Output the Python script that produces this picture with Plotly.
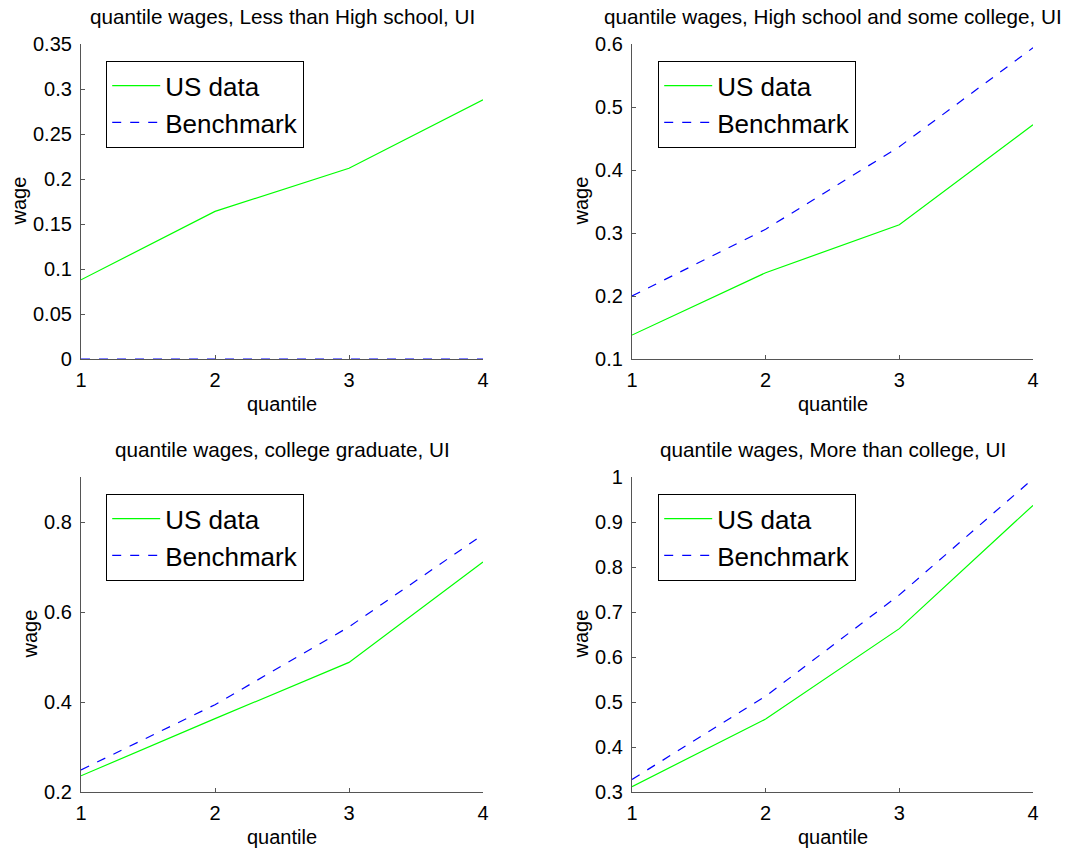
import plotly.graph_objects as go

quantiles = [1, 2, 3, 4]
titles = [
    "quantile wages, Less than High school, UI",
    "quantile wages, High school and some college, UI",
    "quantile wages, college graduate, UI",
    "quantile wages, More than college, UI",
]
us_lths = [0.088, 0.164, 0.212, 0.288]
bm_lths = [0.0, 0.0, 0.0, 0.0]
us_hs = [0.138, 0.237, 0.313, 0.472]
bm_hs = [0.200, 0.306, 0.437, 0.594]
us_col = [0.236, 0.363, 0.488, 0.711]
bm_col = [0.249, 0.394, 0.567, 0.772]
us_more = [0.312, 0.462, 0.663, 0.937]
bm_more = [0.328, 0.513, 0.738, 0.996]

yranges = [[0, 0.35], [0.1, 0.6], [0.2, 0.9], [0.3, 1.0]]
ytickvals = [
    [0, 0.05, 0.1, 0.15, 0.2, 0.25, 0.3, 0.35],
    [0.1, 0.2, 0.3, 0.4, 0.5, 0.6],
    [0.2, 0.4, 0.6, 0.8],
    [0.3, 0.4, 0.5, 0.6, 0.7, 0.8, 0.9, 1.0],
]
yticktext = [
    ["0", "0.05", "0.1", "0.15", "0.2", "0.25", "0.3", "0.35"],
    ["0.1", "0.2", "0.3", "0.4", "0.5", "0.6"],
    ["0.2", "0.4", "0.6", "0.8"],
    ["0.3", "0.4", "0.5", "0.6", "0.7", "0.8", "0.9", "1"],
]
series = [(us_lths, bm_lths), (us_hs, bm_hs), (us_col, bm_col), (us_more, bm_more)]

W, H = 1077, 855
# pixel boxes of the plot areas: (x0, x1, ytop, ybottom)
boxes = [(81, 483, 44, 359), (632, 1033, 44, 359), (81, 483, 477, 792), (632, 1033, 477, 792)]
legend_pos = [(106, 61), (658, 61), (106, 494), (658, 494)]
wage_off = [63, 52, 52, 52]
FONT = "Liberation Sans, Arial, Helvetica, sans-serif"

fig = go.Figure()
layout = dict(
    width=W, height=H, margin=dict(l=0, r=0, t=0, b=0, pad=0, autoexpand=False),
    paper_bgcolor="white", plot_bgcolor="white",
    font=dict(family=FONT, color="black"),
    annotations=[],
)
for i in range(4):
    n = "" if i == 0 else str(i + 1)
    xa, ya = "x" + n, "y" + n
    lg = "legend" + n
    us, bm = series[i]
    fig.add_trace(go.Scatter(x=quantiles, y=us, mode="lines", name="US data",
                             line=dict(color="#00ff00", width=1.2), xaxis=xa, yaxis=ya, legend=lg))
    fig.add_trace(go.Scatter(x=quantiles, y=bm, mode="lines", name="Benchmark",
                             line=dict(color="#0000ff", width=1.2, dash="dash"), xaxis=xa, yaxis=ya, legend=lg))
    x0, x1, yt, yb = boxes[i]
    common = dict(showline=True, linecolor="#555", linewidth=1.2, ticks="inside", ticklen=4,
                  tickcolor="#555", showgrid=False, zeroline=False, mirror=False, automargin=False,
                  tickfont=dict(size=20, family=FONT, color="black"))
    layout["xaxis" + n] = dict(domain=[x0 / W, x1 / W], range=[1, 4], tickvals=[1, 2, 3, 4],
                               anchor=ya, ticklabelstandoff=3, **common)
    layout["yaxis" + n] = dict(domain=[1 - yb / H, 1 - yt / H], range=yranges[i],
                               tickvals=ytickvals[i], ticktext=yticktext[i], anchor=xa,
                               ticklabelstandoff=4, **common)
    lx, ly = legend_pos[i]
    layout[lg] = dict(x=lx / W, y=1 - ly / H, xanchor="left", yanchor="top",
                      bordercolor="black", borderwidth=1.2, bgcolor="white",
                      font=dict(size=26, family=FONT, color="black"),
                      itemwidth=48, tracegroupgap=0)
    cx = (x0 + x1) / 2
    layout["annotations"] += [
        dict(text=titles[i], x=cx / W, y=1 - (yt - 28) / H, xref="paper", yref="paper",
             showarrow=False, font=dict(size=20.7, family=FONT), xanchor="center", yanchor="middle"),
        dict(text="quantile", x=cx / W, y=1 - (yb + 45) / H, xref="paper", yref="paper",
             showarrow=False, font=dict(size=20, family=FONT), xanchor="center", yanchor="middle"),
        dict(text="wage", x=(x0 - wage_off[i]) / W, y=1 - ((yt + yb) / 2) / H, xref="paper", yref="paper",
             showarrow=False, textangle=-90, font=dict(size=20, family=FONT),
             xanchor="center", yanchor="middle"),
    ]

fig.update_layout(**layout)
fig.write_html("out.html", config={"displayModeBar": False},
               post_script="document.body.style.margin='0px';")
